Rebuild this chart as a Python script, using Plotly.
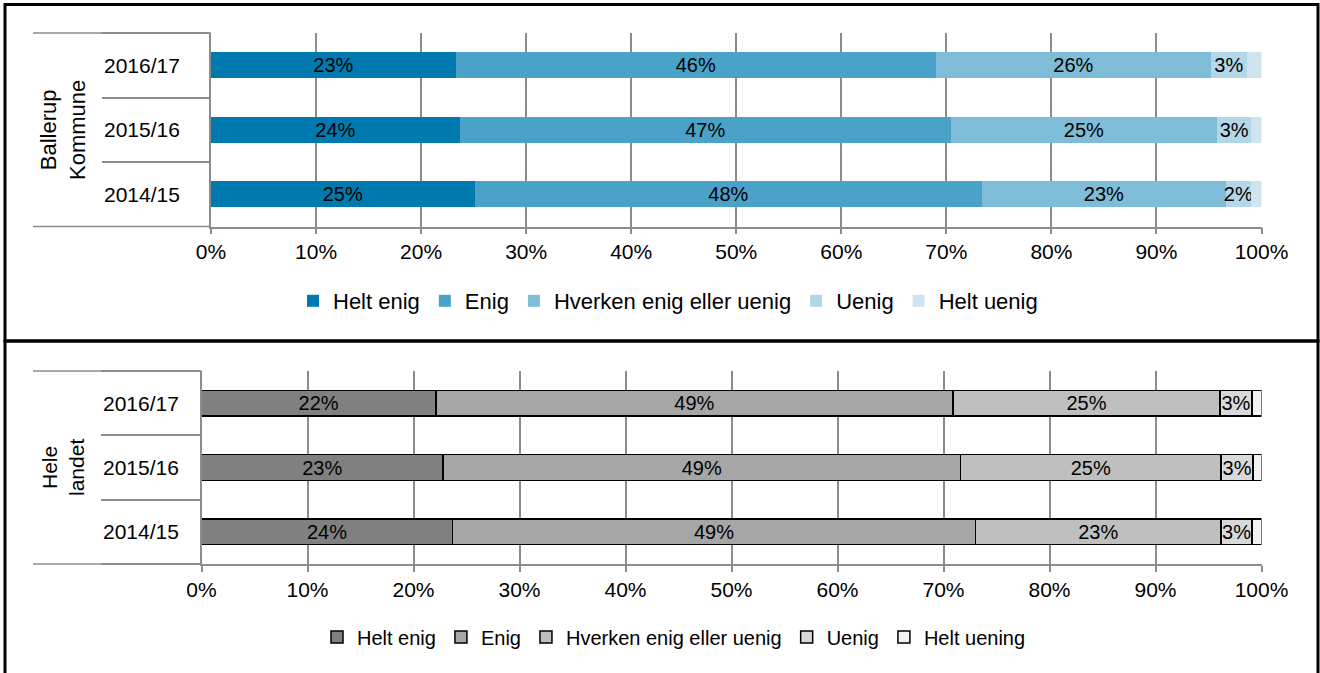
import plotly.graph_objects as go

W, H = 1320, 673

years = ["2014/15", "2015/16", "2016/17"]
categories = ["Helt enig", "Enig", "Hverken enig eller uenig", "Uenig", "Helt uenig"]
categories_bottom = ["Helt enig", "Enig", "Hverken enig eller uenig", "Uenig", "Helt uening"]

# Ballerup Kommune (order matches years list)
ballerup_helt_enig = [25.1, 23.7, 23.3]
ballerup_enig = [48.3, 46.7, 45.7]
ballerup_hverken = [23.2, 25.4, 26.2]
ballerup_uenig = [2.4, 3.2, 3.4]
ballerup_helt_uenig = [1.0, 1.0, 1.4]

# Hele landet
landet_helt_enig = [23.7, 22.8, 22.1]
landet_enig = [49.3, 48.8, 48.8]
landet_hverken = [23.2, 24.6, 25.2]
landet_uenig = [2.9, 3.0, 3.0]
landet_helt_uenig = [0.9, 0.8, 0.9]

x_ticks = [0, 10, 20, 30, 40, 50, 60, 70, 80, 90, 100]
x_tick_labels = ["0%", "10%", "20%", "30%", "40%", "50%", "60%", "70%", "80%", "90%", "100%"]

blue_colors = ["#0079ae", "#4ba2c9", "#7fbcd7", "#b3d7e8", "#d0e4ef"]
grey_colors = ["#808080", "#a6a6a6", "#bfbfbf", "#d9d9d9", "#f2f2f2"]

FONT = "Arial, Liberation Sans, sans-serif"
GRID = "#8c8c8c"


def px(x):
    return x / W


def py(y):
    return 1 - y / H


fig = go.Figure()

top_series = [ballerup_helt_enig, ballerup_enig, ballerup_hverken, ballerup_uenig, ballerup_helt_uenig]
bot_series = [landet_helt_enig, landet_enig, landet_hverken, landet_uenig, landet_helt_uenig]

for i, (name, vals) in enumerate(zip(categories, top_series)):
    txt = [f"{round(v)}%" for v in vals] if i < 4 else [""] * len(vals)
    fig.add_trace(go.Bar(
        x=vals, y=years, orientation="h", name=name,
        marker=dict(color=blue_colors[i], line=dict(width=0)),
        text=txt, textposition="inside", insidetextanchor="middle",
        constraintext="none", textangle=0,
        textfont=dict(family=FONT, size=20, color="black"),
        xaxis="x", yaxis="y", legend="legend", hoverinfo="skip",
    ))

for i, (name, vals) in enumerate(zip(categories_bottom, bot_series)):
    txt = [f"{round(v)}%" for v in vals] if i < 4 else [""] * len(vals)
    fig.add_trace(go.Bar(
        x=vals, y=years, orientation="h", name=name,
        marker=dict(color=grey_colors[i], line=dict(width=1.5, color="black")),
        text=txt, textposition="inside", insidetextanchor="middle",
        constraintext="none", textangle=0,
        textfont=dict(family=FONT, size=20, color="black"),
        xaxis="x2", yaxis="y2", legend="legend2", hoverinfo="skip",
    ))

top_x0, top_x1 = 211, 1261.5
bot_x0, bot_x1 = 201.5, 1261.5
top_y0, top_y1 = 33, 226.5
bot_y0, bot_y1 = 371, 564

xcommon = dict(
    range=[0, 100], tickvals=x_ticks, ticktext=x_tick_labels,
    showgrid=True, gridcolor=GRID, gridwidth=1.5,
    showline=True, linecolor=GRID, linewidth=1.5,
    ticks="outside", ticklen=6, tickcolor=GRID, tickwidth=1.5,
    tickfont=dict(family=FONT, size=21, color="black"),
    zeroline=False, fixedrange=True, automargin=False,
)
ycommon = dict(
    type="category", categoryorder="array", categoryarray=years,
    range=[-0.5, 2.5], showgrid=False, zeroline=False,
    showline=True, linecolor=GRID, linewidth=1.5,
    ticks="outside", tickson="boundaries", tickcolor=GRID, tickwidth=1.5,
    showticklabels=False, fixedrange=True, automargin=False,
)

fig.update_layout(
    template="none",
    width=W, height=H, autosize=False,
    margin=dict(l=0, r=0, t=0, b=0, autoexpand=False),
    paper_bgcolor="white", plot_bgcolor="rgba(0,0,0,0)",
    barmode="stack", bargap=0.6,
    showlegend=True,
    xaxis=dict(domain=[px(top_x0), px(top_x1)], anchor="y", **xcommon),
    yaxis=dict(domain=[py(top_y1), py(top_y0)], anchor="x", ticklen=top_x0 - 104, **ycommon),
    xaxis2=dict(domain=[px(bot_x0), px(bot_x1)], anchor="y2", **xcommon),
    yaxis2=dict(domain=[py(bot_y1), py(bot_y0)], anchor="x2", ticklen=bot_x0 - 103, **ycommon),
    legend=dict(
        orientation="h", x=px(668), y=py(301), xanchor="center", yanchor="middle",
        traceorder="normal", font=dict(family=FONT, size=22, color="black"),
        itemwidth=30, bgcolor="rgba(0,0,0,0)",
    ),
    legend2=dict(
        orientation="h", x=px(674), y=py(637), xanchor="center", yanchor="middle",
        traceorder="normal", font=dict(family=FONT, size=20, color="black"),
        itemwidth=30, bgcolor="rgba(0,0,0,0)",
    ),
    font=dict(family=FONT, color="black"),
)

shapes = []
# outer boxes
shapes.append(dict(type="rect", xref="paper", yref="paper", x0=px(5), x1=px(1318),
                   y0=py(341), y1=py(4.5), line=dict(color="black", width=3)))
shapes.append(dict(type="rect", xref="paper", yref="paper", x0=px(5), x1=px(1318),
                   y0=py(690), y1=py(341), line=dict(color="black", width=3)))
# outer category-group lines extending left
for (ylo, yhi, xax) in [(top_y1, top_y0, top_x0), (bot_y1, bot_y0, bot_x0)]:
    shapes.append(dict(type="line", xref="paper", yref="paper", x0=px(33), x1=px(xax),
                       y0=py(yhi), y1=py(yhi), line=dict(color=GRID, width=1.5)))
    shapes.append(dict(type="line", xref="paper", yref="paper", x0=px(33), x1=px(xax),
                       y0=py(ylo), y1=py(ylo), line=dict(color=GRID, width=1.5)))
fig.update_layout(shapes=shapes)

annotations = []
for yr in years:
    annotations.append(dict(text=yr, x=px(142), y=yr, xref="paper", yref="y",
                            showarrow=False, xanchor="center", yanchor="middle",
                            font=dict(family=FONT, size=21, color="black")))
    annotations.append(dict(text=yr, x=px(141), y=yr, xref="paper", yref="y2",
                            showarrow=False, xanchor="center", yanchor="middle",
                            font=dict(family=FONT, size=21, color="black")))
annotations.append(dict(text="Ballerup<br>Kommune", x=px(63), y=py(130), xref="paper", yref="paper",
                        textangle=-90, showarrow=False, xanchor="center", yanchor="middle",
                        font=dict(family=FONT, size=22, color="black")))
annotations.append(dict(text="Hele<br>landet", x=px(63), y=py(468), xref="paper", yref="paper",
                        textangle=-90, showarrow=False, xanchor="center", yanchor="middle",
                        font=dict(family=FONT, size=21, color="black")))
fig.update_layout(annotations=annotations)

fig.write_html(
    "out.html",
    config={"responsive": False, "displayModeBar": False},
    post_script="document.body.style.margin='0';document.body.style.overflow='hidden';",
)
